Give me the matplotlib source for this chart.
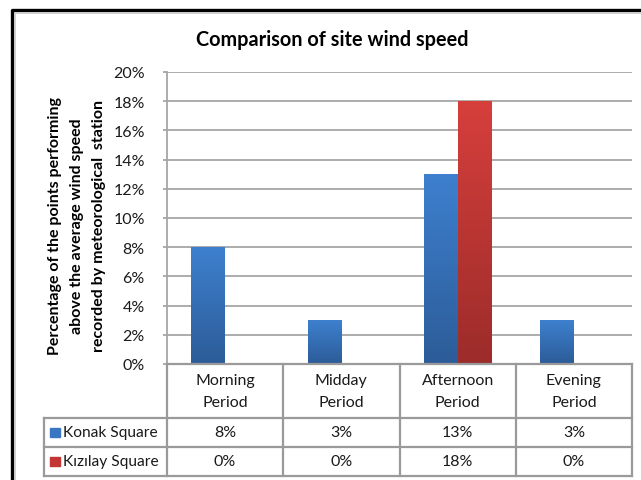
import numpy as np
import matplotlib
matplotlib.use("Agg")
import matplotlib.pyplot as plt
from matplotlib.colors import LinearSegmentedColormap

# Data
categories = ["Morning\nPeriod", "Midday\nPeriod", "Afternoon\nPeriod", "Evening\nPeriod"]
series_names = ["Konak Square", "Kızılay Square"]
konak = [8, 3, 13, 3]
kizilay = [0, 0, 18, 0]
yticks = [0, 2, 4, 6, 8, 10, 12, 14, 16, 18, 20]

FONT = ["Lato", "DejaVu Sans"]
plt.rcParams["font.family"] = FONT

W, H = 641, 481
fig = plt.figure(figsize=(W / 100, H / 100), dpi=100)

# pixel layout helpers
def fx(px):
    return px / W

def fy(py):
    return 1 - py / H

plot_l, plot_r, plot_t, plot_b = 167, 632, 73, 365
ax = fig.add_axes([fx(plot_l), fy(plot_b), fx(plot_r) - fx(plot_l), fy(plot_t) - fy(plot_b)])

n = len(categories)
x = np.arange(n)
bw = 0.29
series = [konak, kizilay]
grads = [("#3E80CF", "#2C5C98"), ("#D63F3C", "#9C2C2A")]
offsets = [-bw / 2, bw / 2]

ax.set_xlim(-0.5, n - 0.5)
ax.set_ylim(0, 20)

for vals, (ctop, cbot), off in zip(series, grads, offsets):
    bars = ax.bar(x + off, vals, width=bw, color="none", edgecolor="none", zorder=3)
    cmap = LinearSegmentedColormap.from_list("g", [cbot, ctop])
    grad = np.linspace(0, 1, 256).reshape(-1, 1)
    for b in bars:
        h = b.get_height()
        if h <= 0:
            continue
        x0 = b.get_x()
        im = ax.imshow(grad, cmap=cmap, origin="lower", aspect="auto",
                       extent=(x0, x0 + b.get_width(), 0, h), zorder=3)
        im.set_clip_path(b)
ax.set_xlim(-0.5, n - 0.5)
ax.set_ylim(0, 20)

ax.set_yticks(yticks)
ax.set_yticklabels([f"{v}%" for v in yticks], fontsize=11.5, color="#1A1A1A")
ax.yaxis.grid(True, color="#A6A6A6", linewidth=1.3, zorder=0)
ax.set_axisbelow(True)
ax.set_xticks([])
for s in ["top", "right", "bottom"]:
    ax.spines[s].set_visible(False)
ax.spines["left"].set_color("#A6A6A6")
ax.spines["left"].set_linewidth(1.3)
ax.tick_params(axis="y", length=3, color="#A6A6A6", width=1.3, pad=13)
for lbl in ax.get_yticklabels():
    lbl.set_horizontalalignment("right")

# Overlay in pixel coordinates for frame, title and axis label
ov = fig.add_axes([0, 0, 1, 1], zorder=-1)
ov.set_xlim(0, W)
ov.set_ylim(H, 0)
ov.axis("off")

# chart frame
ov.plot([11.5, 11.5, W + 5], [H + 5, 10.5, 10.5], color="black", lw=2.4, solid_capstyle="butt")
ov.plot([14.5, 14.5, W + 5], [H + 5, 13.5, 13.5], color="#C8C8C8", lw=1.2, solid_capstyle="butt")

ov.text(332, 40, "Comparison of site wind speed", ha="center", va="center",
        fontsize=14.3, fontweight="bold", color="black")
ov.text(77, 226, "Percentage of the points performing\nabove the average wind speed\nrecorded by meteorological  station",
        ha="center", va="center", rotation=90, fontsize=11.5, fontweight="bold",
        linespacing=1.7, color="black")

# data table
tbl = dict(color="#9A9A9A", lw=1.6, solid_capstyle="projecting", zorder=5)
ov2 = fig.add_axes([0, 0, 1, 1], zorder=5)
ov2.set_xlim(0, W)
ov2.set_ylim(H, 0)
ov2.axis("off")
ov2.patch.set_alpha(0)

leg_l = 44
row_tops = [365, 419, 448, 477]
col_w = (plot_r - plot_l) / n
col_edges = [plot_l + i * col_w for i in range(n + 1)]

for xe in col_edges:
    ov2.plot([xe, xe], [row_tops[0], row_tops[-1]], **tbl)
ov2.plot([leg_l, leg_l], [row_tops[1], row_tops[-1]], **tbl)
ov2.plot([plot_l, plot_r], [row_tops[0], row_tops[0]], **tbl)
for yr in row_tops[1:]:
    ov2.plot([leg_l, plot_r], [yr, yr], **tbl)

for i, cat in enumerate(categories):
    cx = plot_l + (i + 0.5) * col_w
    ov2.text(cx, 392, cat, ha="center", va="center",
             fontsize=11.5, linespacing=1.65, color="#1A1A1A")

leg_colors = ["#3A77C2", "#C23634"]
for r, (name, vals, col) in enumerate(zip(series_names, series, leg_colors)):
    yc = (row_tops[r + 1] + row_tops[r + 2]) / 2
    ov2.add_patch(plt.Rectangle((50, yc - 5), 10, 9, color=col, zorder=6))
    ov2.text(63, yc, name, ha="left", va="center", fontsize=11.2, color="#1A1A1A")
    for i, v in enumerate(vals):
        cx = plot_l + (i + 0.5) * col_w
        ov2.text(cx, yc, f"{v}%", ha="center", va="center", fontsize=11.5, color="#1A1A1A")

fig.savefig("out.png", dpi=100, facecolor="white")
